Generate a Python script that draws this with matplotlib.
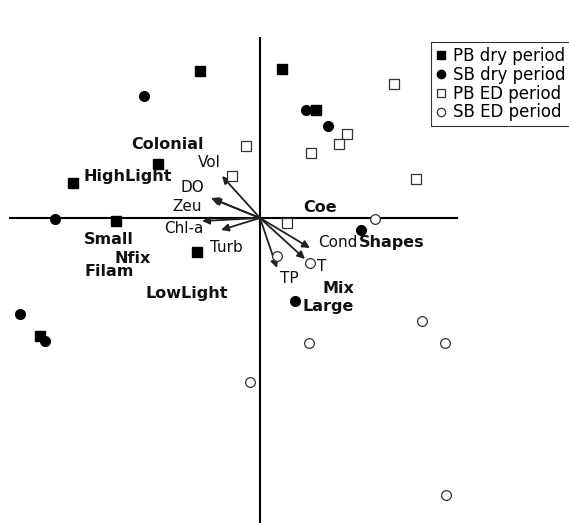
import matplotlib
matplotlib.use("Agg")
import matplotlib.pyplot as plt
from matplotlib.lines import Line2D

plt.rcParams['font.family'] = ['DejaVu Sans']

# Sample scores on the two ordination axes
pb_dry_x = [-0.60, 0.22, 0.56, -1.02, -1.87, -1.44, -0.63, -2.20]
pb_dry_y = [1.47, 1.49, 1.08, 0.54, 0.35, -0.03, -0.34, -1.18]
sb_dry_x = [-1.16, 0.46, 0.68, -2.05, 1.01, 0.35, -2.40, -2.15]
sb_dry_y = [1.22, 1.08, 0.92, -0.01, -0.12, -0.83, -0.96, -1.23]
pb_ed_x = [1.34, 0.87, 0.79, 0.51, -0.14, -0.28, 1.56, 0.27]
pb_ed_y = [1.34, 0.84, 0.74, 0.65, 0.72, 0.42, 0.39, -0.05]
sb_ed_x = [1.15, 0.17, 0.50, 1.62, 1.85, 0.49, -0.10, 1.86]
sb_ed_y = [-0.01, -0.38, -0.45, -1.03, -1.25, -1.25, -1.64, -2.77]

# Environmental variables (biplot arrows)
env_names = ["Vol", "DO", "Zeu", "Chl-a", "Turb", "TP", "T", "Cond"]
env_x = [-0.38, -0.49, -0.47, -0.58, -0.39, 0.17, 0.45, 0.50]
env_y = [0.42, 0.20, 0.19, -0.03, -0.12, -0.50, -0.41, -0.30]
env_label_x = [-0.51, -0.68, -0.73, -0.76, -0.34, 0.29, 0.62, 0.78]
env_label_y = [0.56, 0.31, 0.12, -0.10, -0.29, -0.60, -0.48, -0.24]

# Functional groups
grp_names = ["Colonial", "HighLight", "Coe", "Shapes", "Small", "Nfix",
             "Filam", "LowLight", "Mix", "Large"]
grp_x = [-0.92, -1.32, 0.60, 1.32, -1.51, -1.27, -1.51, -0.73, 0.78, 0.68]
grp_y = [0.74, 0.42, 0.11, -0.24, -0.21, -0.40, -0.53, -0.75, -0.70, -0.88]

fig = plt.figure(figsize=(5.69, 5.23), dpi=100)
ax = fig.add_axes([0, 0, 1, 1])
ax.set_xlim(-2.60, 3.09)
ax.set_ylim(-3.05, 2.18)
ax.axis('off')

# Ordination axes
ax.plot([-2.50, 1.97], [0, 0], color='black', lw=1.5, zorder=1)
ax.plot([0, 0], [1.80, -3.04], color='black', lw=1.5, zorder=1)

ms = 7
ax.plot(pb_dry_x, pb_dry_y, 's', color='black', ms=ms, ls='none', zorder=3)
ax.plot(sb_dry_x, sb_dry_y, 'o', color='black', ms=ms, ls='none', zorder=3)
ax.plot(pb_ed_x, pb_ed_y, 's', mfc='white', mec='#333333', mew=0.9, ms=ms + 0.5, ls='none', zorder=3)
ax.plot(sb_ed_x, sb_ed_y, 'o', mfc='white', mec='#333333', mew=0.9, ms=ms, ls='none', zorder=3)

for name, x, y, lx, ly in zip(env_names, env_x, env_y, env_label_x, env_label_y):
    ax.annotate('', xy=(x, y), xytext=(0, 0),
                arrowprops=dict(arrowstyle='-|>', color='#222222', lw=1.3,
                                mutation_scale=11, shrinkA=0, shrinkB=0),
                zorder=2)
    ax.text(lx, ly, name, fontsize=11, ha='center', va='center', color='#111111')

for name, x, y in zip(grp_names, grp_x, grp_y):
    ax.text(x, y, name, fontsize=11.5, fontweight='bold', ha='center',
            va='center', color='#111111')

handles = [
    Line2D([], [], marker='s', color='black', ls='none', ms=6),
    Line2D([], [], marker='o', color='black', ls='none', ms=6),
    Line2D([], [], marker='s', mfc='white', mec='#333333', ls='none', ms=6, mew=0.9),
    Line2D([], [], marker='o', mfc='white', mec='#333333', ls='none', ms=6, mew=0.9),
]
labels = ["PB dry period", "SB dry period", "PB ED period", "SB ED period"]
leg = ax.legend(handles, labels, loc='upper left', bbox_to_anchor=(0.757, 0.920),
                frameon=True, fancybox=False, fontsize=12, handlelength=0.6,
                handletextpad=0.45, borderpad=0.3, labelspacing=0.05,
                borderaxespad=0)
leg.get_frame().set_edgecolor('black')
leg.get_frame().set_linewidth(0.8)

fig.savefig('out.png', dpi=100)
